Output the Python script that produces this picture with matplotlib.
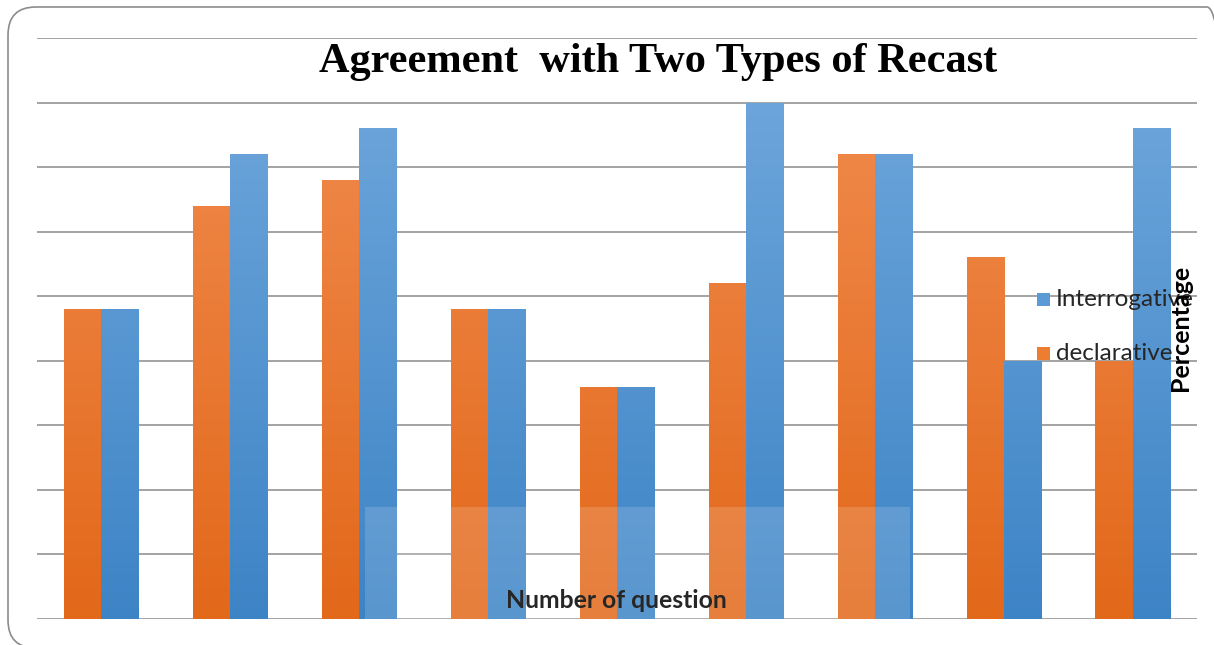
import numpy as np
import matplotlib
matplotlib.use("Agg")
import matplotlib.pyplot as plt
from matplotlib.patches import FancyBboxPatch, Rectangle
from matplotlib.colors import LinearSegmentedColormap
from matplotlib.transforms import IdentityTransform

questions = ["1", "2", "3", "4", "5", "6", "7", "8", "9"]
declarative = [24, 32, 34, 24, 18, 26, 36, 28, 20]
interrogative = [24, 36, 38, 24, 18, 40, 36, 20, 38]

W, H = 1214, 645
fig = plt.figure(figsize=(W / 100, H / 100), dpi=100)
fig.patch.set_facecolor("white")

# rounded border (pixel coordinates, origin bottom-left)
border = FancyBboxPatch((8, -3), 1235 - 8, (H - 7) + 3,
                        boxstyle="round,pad=0,rounding_size=28",
                        transform=IdentityTransform(), facecolor="none",
                        edgecolor="#8c8c8c", linewidth=1.2)
fig.patches.append(border)

ax = fig.add_axes([37 / W, (H - 619) / H, 1160 / W, (619 - 38) / H])
for s in ax.spines.values():
    s.set_visible(False)
ax.set_xticks([])
ax.set_yticks([])
for yv in np.arange(0, 46, 5):
    ax.axhline(yv, color="#8a8a8a", lw=1.1, zorder=0)

orange_cmap = LinearSegmentedColormap.from_list("o", ["#E2681A", "#F28E52"])
blue_cmap = LinearSegmentedColormap.from_list("b", ["#3D84C6", "#72A9DD"])

x = np.arange(len(questions))
bw = 0.288

def grad_bars(xs, vals, cmap, label):
    bars = ax.bar(xs, vals, width=bw, color=cmap(0.5), label=label, zorder=2)
    grad = np.linspace(0, 1, 256).reshape(-1, 1)
    for b in bars:
        x0 = b.get_x()
        w = b.get_width()
        im = ax.imshow(grad, extent=[x0, x0 + w, 0, 45], origin="lower",
                       cmap=cmap, aspect="auto", zorder=2.1)
        im.set_clip_path(b)
        b.set_facecolor("none")
    return bars

grad_bars(x - bw / 2, declarative, orange_cmap, "declarative")
grad_bars(x + bw / 2, interrogative, blue_cmap, "Interrogative")
ax.set_aspect("auto")
ax.set_xlim(-0.5, len(questions) - 0.5)
ax.set_ylim(0, 45)

# faint watermark band
ax.add_patch(Rectangle(((365 - 37) / 1160, 0), (910 - 365) / 1160, (619 - 507) / 581,
                       transform=ax.transAxes, facecolor="white", alpha=0.15,
                       edgecolor="none", zorder=3))

fig.text(658 / W, 1 - 72 / H, "Agreement  with Two Types of Recast",
         ha="center", va="baseline", fontsize=30.5, fontweight="bold",
         family="Liberation Serif")

# legend
leg_items = [("Interrogative", "#5B9BD5", 300), ("declarative", "#ED7D31", 354)]
for name, col, yy in leg_items:
    fig.patches.append(Rectangle((1037 / W, 1 - (yy + 6) / H), 13 / W, 13 / H,
                                 transform=fig.transFigure, facecolor=col,
                                 edgecolor="none", zorder=5))
    fig.text(1056 / W, 1 - yy / H, name, ha="left", va="center",
             fontsize=17.5, family="Lato", color="#262626", zorder=6)

fig.text(1180 / W, 1 - 328 / H, "Percentage", rotation=90, ha="center",
         va="center", fontsize=18, fontweight="bold", family="Lato", zorder=7)
fig.text(616 / W, 1 - 600 / H, "Number of question", ha="center", va="center",
         fontsize=17.8, fontweight="bold", family="Lato", color="#262626", zorder=7)

fig.savefig("out.png", dpi=100)
